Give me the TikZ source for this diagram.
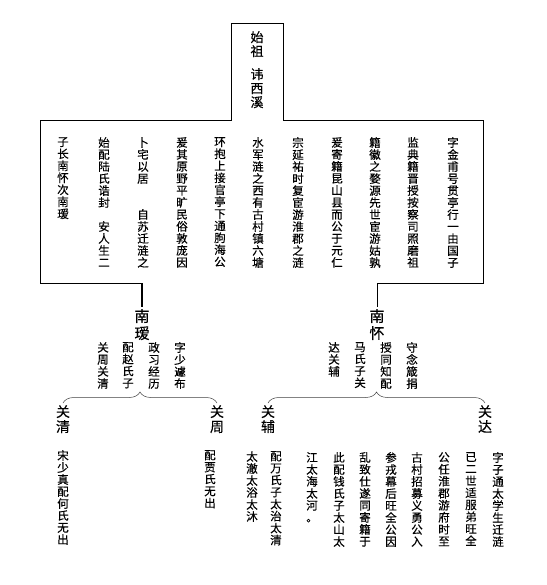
\documentclass[tikz,border=0pt]{standalone}
\usepackage{fontspec}
\newfontfamily\cjk{Noto Sans CJK SC}[FakeBold=0.4]
\usetikzlibrary{decorations.pathreplacing}
% one character per row, rows spaced by the current \baselineskip
\newcommand\shu[1]{\vbox{\lineskiplimit=-1000pt\shux#1\relax}}
\def\shux#1{\ifx\relax#1\else\hbox to 1em{\hss#1\hss}\expandafter\shux\fi}

\begin{document}
\begin{tikzpicture}[x=1pt,y=-1pt,
		frame/.style={black,line width=0.9pt},
		lie/.style={font={\cjk\fontsize{11.5}{12}\selectfont},inner sep=0pt,anchor=north},
		zu/.style={font={\cjk\fontsize{13}{14}\selectfont},inner sep=0pt,anchor=north},
		ming/.style={font={\cjk\fontsize{15}{17}\selectfont},inner sep=0pt,anchor=north},
		zi/.style={font={\cjk\fontsize{14}{15}\selectfont},inner sep=0pt,anchor=north},
		kuo/.style={decorate,decoration={brace,amplitude=11pt},line width=0.5pt,black!75}]
		\useasboundingbox (0,0) rectangle (546,585);
		
		%Founder
		\node[zu] (shizu) at (257,31) {\shu{始祖}};
		\node[zu] (hui) at (257,68) {\shu{讳西溪}};
		
		\node[lie] (lie1) at (453,137) {\shu{字金甫号贯亭行一由国子}};
		\node[lie] (lie2) at (413,137) {\shu{监典籍晋授按察司照磨祖}};
		\node[lie] (lie3) at (375,137) {\shu{籍徽之婺源先世宦游姑孰}};
		\node[lie] (lie4) at (337,137) {\shu{爰寄籍昆山县而公于元仁}};
		\node[lie] (lie5) at (298,137) {\shu{宗延祐时复宦游淮郡之涟}};
		\node[lie] (lie6) at (258,137) {\shu{水军涟之西有古村镇六塘}};
		\node[lie] (lie7) at (220,137) {\shu{环抱上接官亭下通朐海公}};
		\node[lie] (lie8) at (182,137) {\shu{爰其原野平旷民俗敦庞因}};
		\node[lie] (lie9) at (143,137) {\shu{卜宅以居　　自苏迁涟之}};
		\node[lie] (lie10) at (104,137) {\shu{始配陆氏诰封　安人生二}};
		\node[lie] (lie11) at (63,137) {\shu{子长南怀次南瑷}};
		
		\coordinate (lfoot) at (142,283);
		\coordinate (rfoot) at (377,283);
		\draw[frame] (lfoot) -- (40,283) -- (40,120) -- (231,120) -- (231,23)
		-- (283,23) -- (283,120) -- (483,120) -- (483,283) -- (rfoot);
		
		%Sons
		\node[ming] (nanai) at (142,309) {\shu{南瑷}};
		\node[ming] (nanhuai) at (377,309) {\shu{南怀}};
		\draw[line width=1.6pt] (lfoot) -- ([yshift=2pt]nanai.north);
		\draw[line width=1pt] (rfoot) -- ([yshift=2pt]nanhuai.north);
		
		\node[lie] (ai1) at (180,342) {\shu{字少遽布}};
		\node[lie] (ai2) at (154,342) {\shu{政习经历}};
		\node[lie] (ai3) at (128,342) {\shu{配赵氏子}};
		\node[lie] (ai4) at (103,342) {\shu{关周关清}};
		
		\node[lie] (huai1) at (412,342) {\shu{守念箴捐}};
		\node[lie] (huai2) at (386,342) {\shu{授同知配}};
		\node[lie] (huai3) at (360,342) {\shu{马氏子关}};
		\node[lie] (huai4) at (334,342) {\shu{达关辅}};
		
		%Grandsons
		\node[zi] (guanqing) at (63,405) {\shu{关清}};
		\node[zi] (guanzhou) at (217,405) {\shu{关周}};
		\node[zi] (guanfu) at (268,405) {\shu{关辅}};
		\node[zi] (guanda) at (485,405) {\shu{关达}};
		\draw[kuo] ([yshift=2pt]guanqing.north) -- ([yshift=2pt]guanzhou.north);
		\draw[kuo] ([yshift=2pt]guanfu.north) -- ([yshift=2pt]guanda.north);
		
		\node[lie] (qing1) at (63,450) {\shu{宋少真配何氏无出}};
		\node[lie] (zhou1) at (210,450) {\shu{配贾氏无出}};
		\node[lie] (fu1) at (276,451) {\shu{配万氏子太治太清}};
		\node[lie] (fu2) at (252,451) {\shu{太澈太浴太沐}};
		
		\node[lie] (da1) at (498,452) {\shu{字子通太学生迁涟}};
		\node[lie] (da2) at (471,452) {\shu{已二世适服弟旺全}};
		\node[lie] (da3) at (444,452) {\shu{公任淮郡游府时至}};
		\node[lie] (da4) at (417,452) {\shu{古村招募义勇公入}};
		\node[lie] (da5) at (391,452) {\shu{参戎幕后旺全公因}};
		\node[lie] (da6) at (365,452) {\shu{乱致仕遂同寄籍于}};
		\node[lie] (da7) at (339,452) {\shu{此配钱氏子太山太}};
		\node[lie] (da8) at (312,452) {\shu{江太海太河。}};
		
	\end{tikzpicture}
\end{document}
